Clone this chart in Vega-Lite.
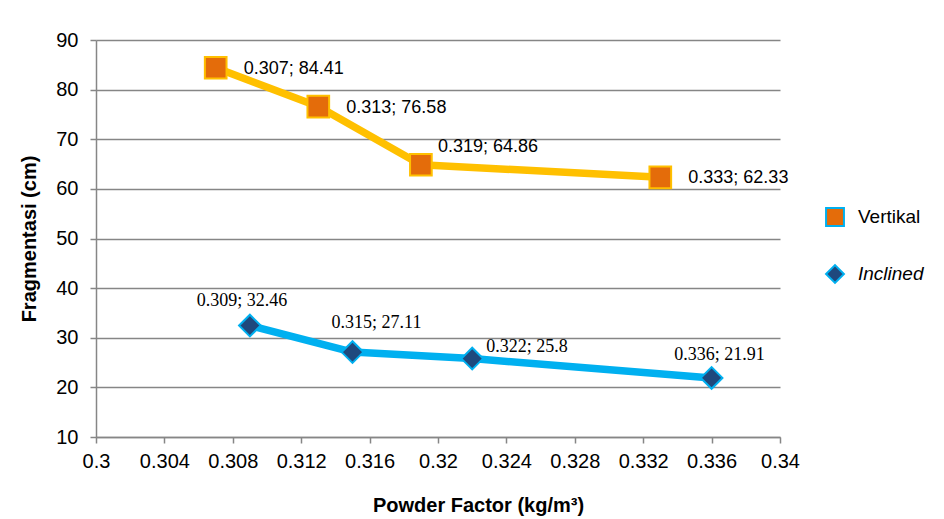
{
  "$schema": "https://vega.github.io/schema/vega-lite/v6.json",
  "width": 684,
  "height": 397,
  "autosize": {"type": "none"},
  "padding": {"left": 96, "top": 40, "right": 164, "bottom": 82},
  "background": "white",
  "config": {
    "view": {"stroke": null},
    "font": "Liberation Sans"
  },
  "data": {
    "values": [
      {"series": "Vertikal", "pf": 0.307, "frag": 84.41, "label": "0.307; 84.41"},
      {"series": "Vertikal", "pf": 0.313, "frag": 76.58, "label": "0.313; 76.58"},
      {"series": "Vertikal", "pf": 0.319, "frag": 64.86, "label": "0.319; 64.86"},
      {"series": "Vertikal", "pf": 0.333, "frag": 62.33, "label": "0.333; 62.33"},
      {"series": "Inclined", "pf": 0.309, "frag": 32.46, "label": "0.309; 32.46"},
      {"series": "Inclined", "pf": 0.315, "frag": 27.11, "label": "0.315; 27.11"},
      {"series": "Inclined", "pf": 0.322, "frag": 25.8, "label": "0.322; 25.8"},
      {"series": "Inclined", "pf": 0.336, "frag": 21.91, "label": "0.336; 21.91"}
    ]
  },
  "encoding": {
    "x": {
      "field": "pf", "type": "quantitative",
      "scale": {"domain": [0.3, 0.34], "nice": false, "zero": false},
      "axis": {
        "title": "Powder Factor (kg/m³)",
        "values": [0.3, 0.304, 0.308, 0.312, 0.316, 0.32, 0.324, 0.328, 0.332, 0.336, 0.34],
        "format": "~g",
        "grid": false,
        "domainColor": "#868686", "domainWidth": 1.5,
        "tickColor": "#868686", "tickWidth": 1.5, "tickSize": 6,
        "labelFont": "Liberation Sans", "labelFontSize": 20, "labelColor": "#000000",
        "labelPadding": 8, "labelFlush": false,
        "titleFont": "Liberation Sans", "titleFontSize": 20, "titleFontWeight": "bold", "titleColor": "#000000",
        "titleX": 382, "titleY": 74, "titleAlign": "center", "titleBaseline": "alphabetic"
      }
    },
    "y": {
      "field": "frag", "type": "quantitative",
      "scale": {"domain": [10, 90], "nice": false, "zero": false},
      "axis": {
        "title": "Fragmentasi (cm)",
        "values": [10, 20, 30, 40, 50, 60, 70, 80, 90],
        "grid": true, "gridColor": "#868686", "gridWidth": 1.5,
        "domainColor": "#868686", "domainWidth": 1.5,
        "tickColor": "#868686", "tickWidth": 1.5, "tickSize": 6,
        "labelFont": "Liberation Sans", "labelFontSize": 20, "labelColor": "#000000",
        "labelPadding": 12,
        "titleFont": "Liberation Sans", "titleFontSize": 20, "titleFontWeight": "bold", "titleColor": "#000000",
        "titlePadding": 16
      }
    }
  },
  "layer": [
    {
      "mark": {"type": "line", "strokeWidth": 7.5, "strokeJoin": "round"},
      "encoding": {
        "detail": {"field": "series", "type": "nominal"},
        "stroke": {"condition": {"test": "datum.series === 'Vertikal'", "value": "#FFC000"}, "value": "#00B0F0"}
      }
    },
    {
      "mark": {"type": "point", "filled": true, "size": 470, "strokeWidth": 2, "opacity": 1},
      "encoding": {
        "fill": {
          "field": "series", "type": "nominal",
          "scale": {"domain": ["Vertikal", "Inclined"], "range": ["#E46C0A", "#1F497D"]},
          "legend": {
            "title": null,
            "orient": "none",
            "legendX": 729,
            "legendY": 167,
            "symbolSize": 320,
            "symbolStrokeColor": "#00B0F0",
            "symbolStrokeWidth": 2,
            "labelFont": "Liberation Sans",
            "labelFontSize": 19,
            "labelColor": "#000000",
            "labelOffset": 13,
            "rowPadding": 31,
            "encoding": {
              "symbols": {"stroke": {"value": "#00B0F0"}, "strokeWidth": {"value": 2}},
              "labels": {"fontStyle": {"condition": {"test": "datum.label === 'Inclined'", "value": "italic"}, "value": "normal"}}
            }
          }
        },
        "shape": {
          "field": "series", "type": "nominal",
          "scale": {"domain": ["Vertikal", "Inclined"], "range": ["square", "diamond"]},
          "legend": {
            "title": null,
            "orient": "none",
            "legendX": 729,
            "legendY": 167,
            "symbolSize": 320,
            "symbolStrokeColor": "#00B0F0",
            "symbolStrokeWidth": 2,
            "labelFont": "Liberation Sans",
            "labelFontSize": 19,
            "labelColor": "#000000",
            "labelOffset": 13,
            "rowPadding": 31,
            "encoding": {
              "symbols": {"stroke": {"value": "#00B0F0"}, "strokeWidth": {"value": 2}},
              "labels": {"fontStyle": {"condition": {"test": "datum.label === 'Inclined'", "value": "italic"}, "value": "normal"}}
            }
          }
        },
        "stroke": {"condition": {"test": "datum.series === 'Vertikal'", "value": "#FFC000"}, "value": "#00B0F0"}
      }
    },
    {
      "transform": [{"filter": "datum.series === 'Vertikal' && datum.pf !== 0.319"}],
      "mark": {"type": "text", "align": "left", "baseline": "middle", "dx": 28, "dy": 1, "font": "Liberation Sans", "fontSize": 18, "color": "#000000"},
      "encoding": {"text": {"field": "label"}}
    },
    {
      "transform": [{"filter": "datum.series === 'Vertikal' && datum.pf === 0.319"}],
      "mark": {"type": "text", "align": "left", "baseline": "middle", "dx": 17, "dy": -18, "font": "Liberation Sans", "fontSize": 18, "color": "#000000"},
      "encoding": {"text": {"field": "label"}}
    },
    {
      "transform": [{"filter": "datum.pf === 0.309"}],
      "mark": {"type": "text", "align": "center", "baseline": "middle", "dx": -8, "dy": -25, "font": "Liberation Serif", "fontSize": 18, "color": "#000000"},
      "encoding": {"text": {"field": "label"}}
    },
    {
      "transform": [{"filter": "datum.pf === 0.315"}],
      "mark": {"type": "text", "align": "center", "baseline": "middle", "dx": 24, "dy": -29, "font": "Liberation Serif", "fontSize": 18, "color": "#000000"},
      "encoding": {"text": {"field": "label"}}
    },
    {
      "transform": [{"filter": "datum.pf === 0.322"}],
      "mark": {"type": "text", "align": "left", "baseline": "middle", "dx": 14, "dy": -12, "font": "Liberation Serif", "fontSize": 18, "color": "#000000"},
      "encoding": {"text": {"field": "label"}}
    },
    {
      "transform": [{"filter": "datum.pf === 0.336"}],
      "mark": {"type": "text", "align": "center", "baseline": "middle", "dx": 8, "dy": -23, "font": "Liberation Serif", "fontSize": 18, "color": "#000000"},
      "encoding": {"text": {"field": "label"}}
    }
  ]
}
